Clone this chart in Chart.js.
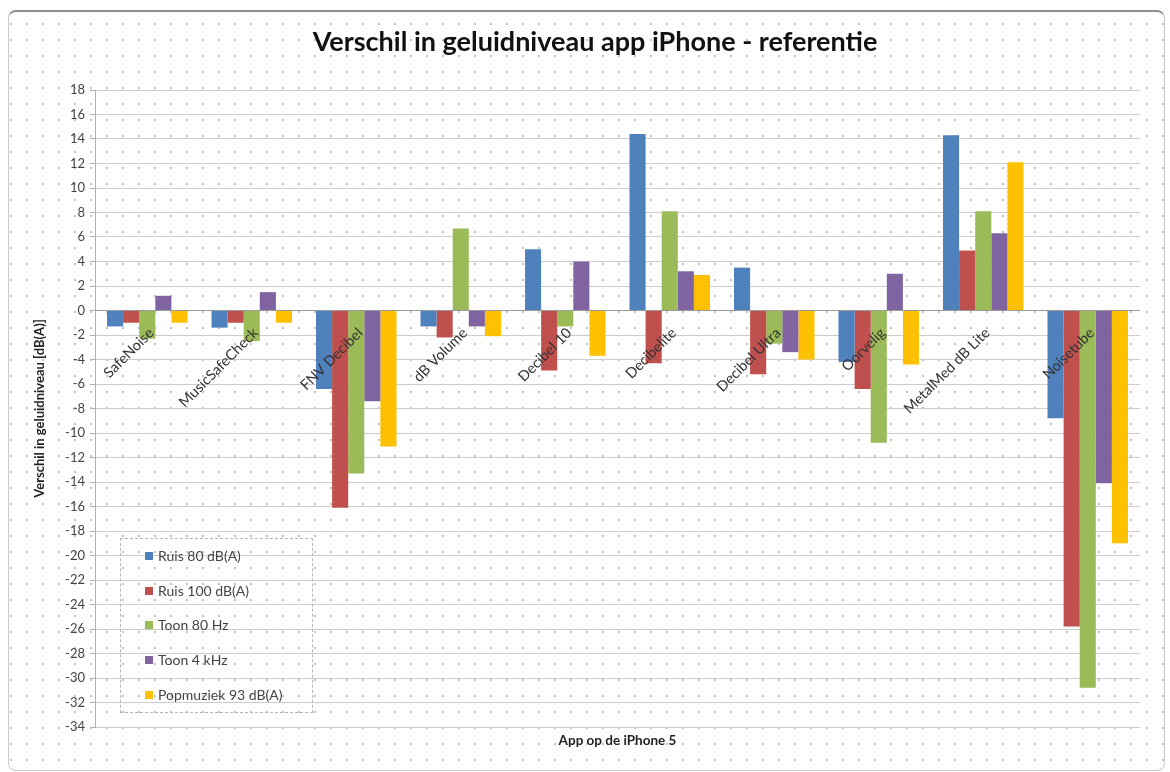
<!DOCTYPE html>
<html>
<head>
<meta charset="utf-8">
<script src="https://cdn.jsdelivr.net/npm/chart.js@4/dist/chart.umd.min.js"></script>
<style>
    body { margin: 0; background: #fff; font-family: Lato, sans-serif; }
    .wrap { position: relative; width: 1170px; height: 772px; }
    .frame {
        position: absolute; left: 8px; top: 10px; width: 1155px; height: 758px;
        border: 1px solid #c8c8c8; border-top: 2px solid #8f8f8f; border-radius: 8px;
        background-image: radial-gradient(circle, #c2c2c2 0.9px, transparent 1.4px);
        background-size: 16px 16px; background-position: 10px 4px;
    }
    #myChart { position: absolute; left: 0; top: 0; }
    .legend {
        position: absolute; left: 120px; top: 538px; width: 193px; height: 175px;
        border: 1px dashed #b5b5b5; box-sizing: border-box;
    }
    .legend .item {
        position: absolute; left: 24px; font-size: 14px; color: #444; line-height: 16px; white-space: nowrap;
    }
    .legend .box { display: inline-block; width: 8px; height: 8px; margin-right: 5px; vertical-align: 1px; }
</style>
</head>
<body>
<div class="wrap">
    <div class="frame"></div>
    <canvas id="myChart" width="1170" height="772"></canvas>
    <div class="legend"></div>
</div>
<script>
// data
const categories = ['SafeNoise', 'MusicSafeCheck', 'FNV Decibel', 'dB Volume', 'Decibel 10', 'Decibelite', 'Decibel Ultra', 'Oorvelig', 'MetalMed dB Lite', 'Noisetube'];
const seriesNames = ['Ruis 80 dB(A)', 'Ruis 100 dB(A)', 'Toon 80 Hz', 'Toon 4 kHz', 'Popmuziek 93 dB(A)'];
const ruis80 = [-1.3, -1.4, -6.4, -1.3, 5.0, 14.4, 3.5, -4.2, 14.3, -8.8];
const ruis100 = [-1.0, -1.0, -16.1, -2.2, -4.9, -4.3, -5.2, -6.4, 4.9, -25.8];
const toon80 = [-2.3, -2.5, -13.3, 6.7, -1.3, 8.1, -2.7, -10.8, 8.1, -30.8];
const toon4k = [1.2, 1.5, -7.4, -1.3, 4.0, 3.2, -3.4, 3.0, 6.3, -14.1];
const popmuziek = [-1.0, -1.0, -11.1, -2.1, -3.7, 2.9, -4.0, -4.4, 12.1, -19.0];
const yTicks = { min: -34, max: 18, step: 2 };

const colors = ['#4f81bd', '#c0504d', '#9bbb59', '#8064a2', '#ffc000'];
const allSeries = [ruis80, ruis100, toon80, toon4k, popmuziek];

const datasets = [];
allSeries.forEach((s, i) => {
    datasets.push({
        label: seriesNames[i],
        data: s,
        backgroundColor: colors[i],
        borderWidth: 0,
        categoryPercentage: 0.77,
        barPercentage: 1.0
    });
});

// category names rotated at the zero line, like the excel axis
const catLabels = {
    id: 'catLabels',
    afterDatasetsDraw(chart) {
        const ctx = chart.ctx;
        const xs = chart.scales.x;
        const y0 = chart.scales.y.getPixelForValue(0);
        ctx.save();
        ctx.font = '14.5px Lato';
        ctx.fillStyle = '#333';
        ctx.textAlign = 'right';
        ctx.textBaseline = 'middle';
        categories.forEach((c, i) => {
            const x = xs.getPixelForValue(i);
            ctx.save();
            ctx.translate(x + 4, y0 + 20);
            ctx.rotate(-Math.PI / 4);
            ctx.fillText(c, 0, 0);
            ctx.restore();
        });
        ctx.restore();
    }
};

// left padding a bit larger so the title sits centred like the reference
const padLeft = 50, padBottom = 12;
const ctx = document.getElementById('myChart');
const myChart = new Chart(ctx, {
    type: 'bar',
    data: { labels: categories, datasets: datasets },
    options: {
        responsive: false,
        animation: false,
        layout: { padding: { top: 17, left: padLeft, right: 30, bottom: padBottom } },
        plugins: {
            legend: { display: false },
            tooltip: { enabled: false },
            title: {
                display: true,
                text: 'Verschil in geluidniveau app iPhone - referentie',
                color: '#111',
                font: { family: 'Lato', size: 27, weight: 'bold' },
                padding: { top: 8.8, bottom: 31.8 }
            }
        },
        scales: {
            x: {
                ticks: { display: false },
                grid: { display: false },
                border: { display: false },
                title: {
                    display: true,
                    text: 'App op de iPhone 5',
                    color: '#222',
                    font: { family: 'Lato', size: 13.5, weight: 'bold' },
                    padding: { top: 0, bottom: 11 }
                },
                afterFit: (scale) => { scale.height = 772 - padBottom - 727; }
            },
            y: {
                min: yTicks.min,
                max: yTicks.max,
                ticks: {
                    stepSize: yTicks.step,
                    color: '#444',
                    padding: 5,
                    font: { family: 'Lato', size: 13 }
                },
                grid: {
                    color: (c) => c.tick && c.tick.value === 0 ? '#9a9a9a' : '#cdcdcd',
                    tickLength: 5,
                    tickColor: '#b0b0b0'
                },
                border: { color: '#b0b0b0' },
                title: {
                    display: true,
                    text: 'Verschil in geluidniveau [dB(A)]',
                    color: '#222',
                    font: { family: 'Lato', size: 13, weight: 'bold' },
                    padding: { top: -18, bottom: 0 }
                },
                afterFit: (scale) => { scale.width = 95 - padLeft; }
            }
        }
    },
    plugins: [catLabels]
});

// legend box inside the plot, like the reference
const legendBox = document.querySelector('.legend');
let row = 0;
myChart.data.datasets.forEach(ds => {
    legendBox.innerHTML += `<div class="item" style="top:${9 + row * 34.7}px"><span class="box" style="background:${ds.backgroundColor}"></span>${ds.label}</div>`;
    row++;
});
</script>
</body>
</html>
